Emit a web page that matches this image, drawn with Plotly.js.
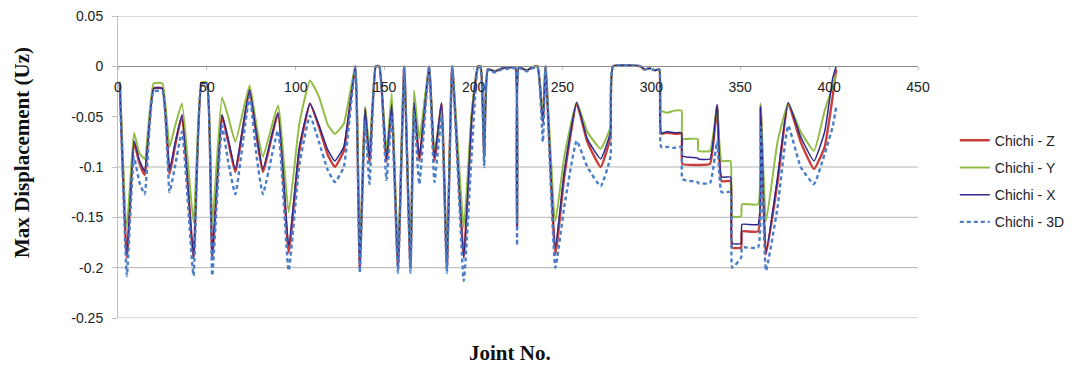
<!DOCTYPE html>
<html>
<head>
<meta charset="utf-8">
<script src="https://cdn.plot.ly/plotly-3.0.1.min.js"></script>
<style>html,body{margin:0;padding:0;background:#fff;}#chart{width:1083px;height:365px;}</style>
</head>
<body>
<div id="chart"></div>
<script>
// Joint numbers at the read-off key points
const joints = [1,5,9,12,15,20,25,29,32,36,42.5,47,50,53,58.5,62,66,74,78,81.5,90,96,102,108,113,118,122,127,133.5,136,139,141.5,145,147,151,154,157.5,161,164.5,166.5,169.5,175,178,182,185,188,194.5,199,202.5,204,206,208,212,216,221,223.5,224.5,225.5,230,233,236,239,240.5,246,251,258,264,271.5,277,278.5,294,296,299,302,304.5,305.5,309,313,317,317.5,326,326.5,333,337,339.5,344.5,345.5,350.5,351,360,361.5,364.5,371,377,384,391.5,397.5,402,404];

const dispZ = [-0.017,-0.19,-0.075,-0.096,-0.108,-0.022,-0.022,-0.107,-0.08,-0.049,-0.19,-0.017,-0.017,-0.19,-0.049,-0.075,-0.105,-0.024,-0.07,-0.105,-0.047,-0.185,-0.084,-0.037,-0.06,-0.088,-0.1,-0.084,0,-0.2,-0.042,-0.095,0,0,-0.095,-0.04,-0.2,0,-0.2,-0.037,-0.094,0,-0.094,-0.037,-0.2,0,-0.19,-0.05,0,0,-0.09,-0.003,-0.005,-0.002,-0.001,-0.001,-0.16,-0.001,-0.004,-0.001,0,-0.055,0,-0.187,-0.11,-0.037,-0.075,-0.1,-0.07,0,0,-0.003,-0.002,-0.004,-0.003,-0.067,-0.066,-0.067,-0.067,-0.097,-0.098,-0.098,-0.097,-0.039,-0.114,-0.114,-0.18,-0.18,-0.164,-0.164,-0.04,-0.187,-0.115,-0.037,-0.075,-0.102,-0.08,-0.03,-0.003];

const dispY = [-0.015,-0.16,-0.066,-0.086,-0.092,-0.017,-0.017,-0.08,-0.06,-0.037,-0.155,-0.016,-0.016,-0.158,-0.031,-0.05,-0.075,-0.019,-0.06,-0.09,-0.039,-0.145,-0.057,-0.014,-0.03,-0.058,-0.067,-0.057,0,-0.19,-0.04,-0.084,0,0,-0.085,-0.027,-0.19,0,-0.195,-0.024,-0.072,0,-0.085,-0.044,-0.195,0,-0.16,-0.045,0,0,-0.08,-0.003,-0.005,-0.002,-0.001,-0.001,-0.155,-0.001,-0.004,-0.001,0,-0.05,0,-0.154,-0.09,-0.036,-0.065,-0.082,-0.06,0,0,-0.003,-0.002,-0.004,-0.003,-0.044,-0.046,-0.044,-0.044,-0.072,-0.072,-0.084,-0.084,-0.04,-0.094,-0.094,-0.149,-0.149,-0.137,-0.137,-0.037,-0.154,-0.075,-0.037,-0.065,-0.084,-0.044,-0.02,-0.008];

const dispX = [-0.017,-0.188,-0.074,-0.093,-0.104,-0.022,-0.022,-0.103,-0.077,-0.048,-0.19,-0.017,-0.017,-0.188,-0.048,-0.072,-0.102,-0.023,-0.068,-0.102,-0.046,-0.178,-0.08,-0.037,-0.058,-0.083,-0.094,-0.08,0,-0.2,-0.042,-0.092,0,0,-0.092,-0.038,-0.2,0,-0.2,-0.036,-0.09,0,-0.09,-0.036,-0.2,0,-0.19,-0.05,0,0,-0.095,-0.003,-0.005,-0.002,-0.001,-0.001,-0.16,-0.001,-0.004,-0.001,0,-0.055,0,-0.18,-0.105,-0.036,-0.072,-0.092,-0.065,0,0,-0.003,-0.002,-0.004,-0.003,-0.066,-0.065,-0.066,-0.066,-0.089,-0.091,-0.092,-0.092,-0.038,-0.11,-0.11,-0.176,-0.176,-0.157,-0.157,-0.04,-0.185,-0.11,-0.036,-0.07,-0.094,-0.065,-0.012,0];

const disp3D = [-0.017,-0.208,-0.09,-0.115,-0.127,-0.025,-0.025,-0.125,-0.1,-0.065,-0.208,-0.017,-0.017,-0.208,-0.059,-0.095,-0.127,-0.03,-0.09,-0.127,-0.064,-0.203,-0.098,-0.049,-0.075,-0.103,-0.115,-0.1,0,-0.205,-0.055,-0.117,0,0,-0.113,-0.05,-0.205,0,-0.205,-0.045,-0.117,0,-0.115,-0.05,-0.205,0,-0.213,-0.085,0,-0.002,-0.1,-0.004,-0.006,-0.003,-0.002,-0.002,-0.178,-0.002,-0.005,-0.002,-0.001,-0.075,0,-0.2,-0.14,-0.074,-0.1,-0.119,-0.09,0,0,-0.003,-0.002,-0.004,-0.003,-0.08,-0.08,-0.081,-0.08,-0.112,-0.115,-0.116,-0.116,-0.075,-0.125,-0.125,-0.2,-0.19,-0.18,-0.18,-0.06,-0.203,-0.14,-0.059,-0.1,-0.117,-0.087,-0.06,-0.04];

const seriesNames = ['Chichi - Z','Chichi - Y','Chichi - X','Chichi - 3D'];
const xTicks = [0,50,100,150,200,250,300,350,400,450];
const yTicks = [0.05,0,-0.05,-0.1,-0.15,-0.2,-0.25];
const yTickText = ['0.05','0','-0.05','-0.1','-0.15','-0.2','-0.25'];
const yGridVals = [0.05,-0.1,-0.15,-0.2,-0.25];

const styles = [
  {color:'#C8403C', width:2.4, dash:'solid'},
  {color:'#92BD45', width:2, dash:'solid'},
  {color:'#2E2A8C', width:1.5, dash:'solid'},
  {color:'#4A7FC8', width:2.4, dash:'4px,3px'}
];
const ys = [dispZ, dispY, dispX, disp3D];

const traces = ys.map((y,i)=>({
  type:'scatter', mode:'lines', x:joints, y:y, name:seriesNames[i],
  legendgroup:'g'+i,
  line:{color:styles[i].color, width:styles[i].width, dash:styles[i].dash, shape:'spline', smoothing:0.4}
}));

const gridShapes = yGridVals.map(v=>({
  type:'line', xref:'paper', yref:'y', x0:0, x1:1, y0:v, y1:v,
  line:{color:'#B4B4B4', width:1}, layer:'below'
}));

const tickFont = {family:'Liberation Sans, Arial, sans-serif', size:14, color:'#222'};

const layout = {
  width:1083, height:365,
  margin:{l:118, r:165, t:16, b:47},
  paper_bgcolor:'#fff', plot_bgcolor:'rgba(0,0,0,0)',
  showlegend:true,
  legend:{x:1.046, y:0.64, xanchor:'left', yanchor:'top', tracegroupgap:6,
          font:{family:'Liberation Sans, Arial, sans-serif', size:14, color:'#222'},
          bgcolor:'rgba(0,0,0,0)'},
  shapes:gridShapes,
  xaxis:{range:[0,450], tickvals:xTicks, anchor:'free', position:0.25/0.30,
         showline:true, linecolor:'#8C8C8C', linewidth:1,
         ticks:'outside', ticklen:3, tickcolor:'#BFBFBF',
         showgrid:false, zeroline:false, ticklabelstandoff:5,
         tickfont:tickFont},
  yaxis:{range:[-0.25,0.05], tickvals:yTicks, ticktext:yTickText,
         showline:true, linecolor:'#BFBFBF', linewidth:1,
         ticks:'outside', ticklen:5, tickcolor:'#BFBFBF',
         showgrid:false, zeroline:false, ticklabelstandoff:6,
         tickfont:tickFont},
  annotations:[
    {text:'<b>Joint No.</b>', xref:'paper', yref:'paper', x:0.49, y:-0.116,
     xanchor:'center', yanchor:'middle', showarrow:false,
     font:{family:'Liberation Serif, Times New Roman, serif', size:21, color:'#111'}},
    {text:'<b>Max Displacement (Uz)</b>', xref:'paper', yref:'paper', x:-0.12, y:0.546,
     xanchor:'center', yanchor:'middle', showarrow:false, textangle:-90,
     font:{family:'Liberation Serif, Times New Roman, serif', size:21, color:'#111'}}
  ]
};

Plotly.newPlot('chart', traces, layout, {displayModeBar:false, staticPlot:true});
</script>
</body>
</html>
